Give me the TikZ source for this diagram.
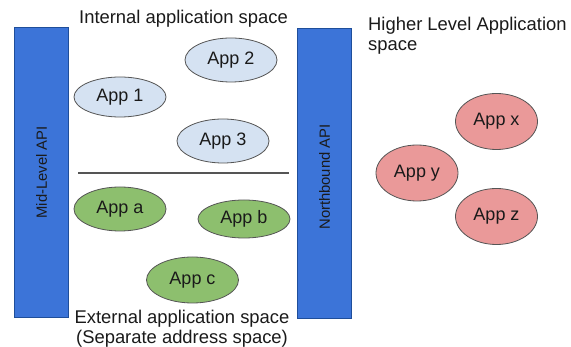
\documentclass[tikz,border=0pt]{standalone}
\usepackage{fontspec}
\setmainfont{Liberation Sans}
\usetikzlibrary{shapes.geometric}
\definecolor{barblue}{HTML}{3C74D8}
\definecolor{baredge}{HTML}{1F4E9A}
\definecolor{appblue}{HTML}{D5E2F2}
\definecolor{appgreen}{HTML}{8DBF6E}
\definecolor{appred}{HTML}{EA9999}
\definecolor{edgegray}{HTML}{555555}
\definecolor{txt}{HTML}{1A1A1A}
\tikzset{
  apibar/.style={draw=baredge, line width=0.8pt, fill=barblue, minimum width=54pt, minimum height=290pt, inner sep=0pt},
  bartext/.style={rotate=90, text=txt, font=\fontsize{14.8}{17}\selectfont},
  app/.style={ellipse, draw=edgegray, line width=0.8pt, inner sep=0pt, text=txt, font=\fontsize{18}{20}\selectfont},
  appb/.style={app, fill=appblue, minimum width=92pt, minimum height=40pt},
  appg/.style={app, fill=appgreen, minimum width=92pt, minimum height=42pt},
  appr/.style={app, fill=appred, minimum width=82pt, minimum height=56pt},
  label/.style={text=txt, font=\fontsize{18.4}{20}\selectfont, inner sep=0pt, align=center}
}
\begin{document}
\begin{tikzpicture}[x=1pt, y=-1pt]
\useasboundingbox[fill=white] (0,0) rectangle (571,347);
\node[apibar] (midbar) at (41.5,172.5) {};
\node[bartext] (midtxt) at (midbar.center) {Mid-Level API};
\node[apibar] (northbar) at (324.5,173) {};
\node[bartext] (northtxt) at ([yshift=-4pt]northbar.center) {Northbound API};
\node[label] (internal) at (183.5,19) {Internal application space};
\node[label] (external) at (182,329) {External application space\\(Separate address space)};
\node[label, align=left, anchor=north west] (higher) at (368,17) {Higher Level Application\\space};
\coordinate (divL) at (78,173);
\coordinate (divR) at (289,173);
\draw[draw=edgegray, line width=1.2pt] (divL) -- (divR);
\node[appb] (app1) at (120,97) {App 1};
\node[appb, minimum height=44pt] (app2) at (231,60) {App 2};
\node[appb, minimum height=44pt] (app3) at (223,141) {App 3};
\node[appg, minimum height=44pt] (appa) at (120,209) {App a};
\node[appg, minimum height=38pt] (appb) at (244,219) {App b};
\node[appg, minimum height=46pt] (appc) at (192.5,280) {App c};
\node[appr] (appx) at (496.5,121.5) {App x};
\node[appr] (appy) at (417,173) {App y};
\node[appr] (appz) at (496.5,216.5) {App z};
\end{tikzpicture}
\end{document}
